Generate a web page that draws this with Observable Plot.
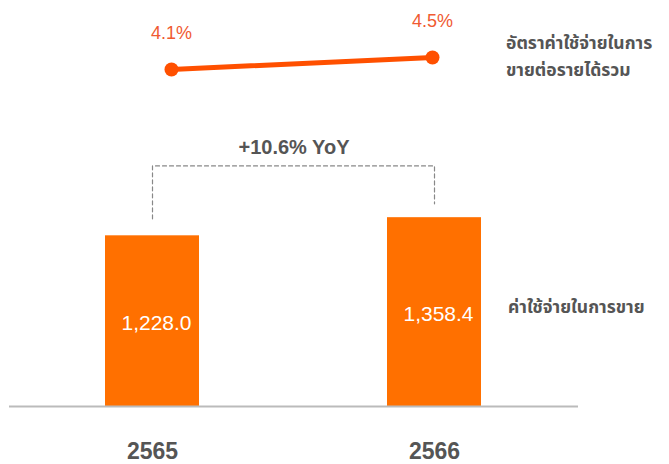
<!DOCTYPE html>
<html>
<head>
<meta charset="utf-8">
<script src="https://cdn.jsdelivr.net/npm/d3@7"></script>
<script src="https://cdn.jsdelivr.net/npm/@observablehq/plot@0.6"></script>
<style>
  html, body { margin: 0; padding: 0; background: #fff; }
  #wrap { position: relative; width: 669px; height: 464px; overflow: hidden; font-family: "Noto Sans Thai", "Liberation Sans", "Noto Sans", sans-serif; }
  #wrap svg { position: absolute; left: 0; top: 0; overflow: visible; }
  .lbl { position: absolute; color: #555; font-weight: 700; font-size: 17.5px; line-height: 27px; white-space: nowrap; }
</style>
</head>
<body>
<div id="wrap"></div>
<script>
// ---- data ----
const years = ["2565", "2566"];
const expenses = [1228.0, 1358.4];          // ค่าใช้จ่ายในการขาย
const ratio = [4.1, 4.5];                   // อัตราค่าใช้จ่ายในการขายต่อรายได้รวม (%)
const expenseLabels = ["1,228.0", "1,358.4"];
const ratioLabels = ["4.1%", "4.5%"];
const yoyLabel = "+10.6% YoY";
const bracketY = [1350, 1731, 1731, 1458];   // dashed connector (value units)
const bracketX = ["2565", "2565", "2566", "2566"];
const lineLabel = ["อัตราค่าใช้จ่ายในการ", "ขายต่อรายได้รวม"];
const barLabel = "ค่าใช้จ่ายในการขาย";

const bars = years.map((y, i) => ({year: y, value: expenses[i], label: expenseLabels[i]}));
const pts = years.map((y, i) => ({year: y, value: ratio[i], label: ratioLabels[i]}));
const bracket = bracketX.map((x, i) => ({x, y: bracketY[i]}));

const wrap = document.getElementById("wrap");

// ---- bars ----
const barPlot = Plot.plot({
  width: 669, height: 464,
  marginLeft: 9, marginRight: 91, marginTop: 128, marginBottom: 58,
  style: {fontFamily: "'Liberation Sans', sans-serif", background: "transparent"},
  x: {type: "band", domain: years, paddingInner: 0.6655, paddingOuter: 0.3415, axis: null},
  y: {domain: [0, 2000], axis: null},
  marks: [
    Plot.barY(bars, {x: "year", y: "value", fill: "#FF7000"}),
    Plot.ruleY([0], {stroke: "#bbb", strokeWidth: 2}),
    Plot.text(bars, {x: "year", y: d => d.value / 2, text: "label", fill: "#fff", fontSize: 21, dx: 4, dy: 2}),
    Plot.line(bracket, {x: "x", y: "y", stroke: "#888", strokeWidth: 1.2, strokeDasharray: "4,3"}),
    Plot.text([yoyLabel], {y: [1860], text: d => d, fill: "#555", fontSize: 20, fontWeight: 700}),
    Plot.text(years, {x: d => d, text: d => d, frameAnchor: "bottom", lineAnchor: "top", dy: 36,
      fill: "#555", fontSize: 23, fontWeight: 700})
  ]
});
wrap.appendChild(barPlot);

// ---- ratio line ----
const linePlot = Plot.plot({
  width: 669, height: 110,
  marginLeft: 171, marginRight: 237, marginTop: 42, marginBottom: 23,
  style: {fontFamily: "'Liberation Sans', sans-serif", background: "transparent"},
  x: {type: "point", domain: years, padding: 0, axis: null},
  y: {domain: [3.5, 5], axis: null},
  marks: [
    Plot.line(pts, {x: "year", y: "value", stroke: "#FF5000", strokeWidth: 5}),
    Plot.dot(pts, {x: "year", y: "value", r: 7, fill: "#FF5000"}),
    Plot.text(pts, {x: "year", y: "value", text: "label", dy: -36, fill: "#F05A32", fontSize: 18})
  ]
});
wrap.appendChild(linePlot);

// ---- series labels ----
const l1 = document.createElement("div");
l1.className = "lbl";
l1.style.left = "506px"; l1.style.top = "30px";
l1.innerHTML = lineLabel.join("<br>");
wrap.appendChild(l1);

const l2 = document.createElement("div");
l2.className = "lbl";
l2.style.left = "508px"; l2.style.top = "294px";
l2.textContent = barLabel;
wrap.appendChild(l2);
</script>
</body>
</html>
